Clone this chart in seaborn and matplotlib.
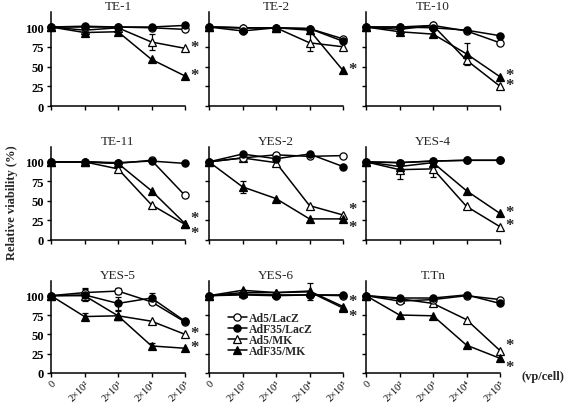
import seaborn as sns
import pandas as pd
import matplotlib.pyplot as plt

panels = ['TE-1', 'TE-2', 'TE-10', 'TE-11', 'YES-2', 'YES-4', 'YES-5', 'YES-6', 'T.Tn']
doses = ['0', '2×10²', '2×10³', '2×10⁴', '2×10⁵']

# relative viability (%), one row per panel
ad5_lacz = [
    [100, 100, 100, 99, 97],
    [100, 99, 99, 98, 85],
    [100, 100, 102, 95, 80],
    [100, 100, 98, 102, 57],
    [100, 105, 109, 107, 108],
    [100, 99, 101, 102, 102],
    [100, 104, 106, 92, 66],
    [100, 102, 101, 101, 100],
    [100, 93, 95, 100, 95],
]
adf35_lacz = [
    [100, 101, 100, 100, 102],
    [100, 95, 99, 98, 82],
    [100, 100, 99, 96, 89],
    [100, 100, 99, 101, 98],
    [100, 110, 104, 110, 94],
    [100, 99, 101, 102, 102],
    [100, 101, 90, 97, 67],
    [100, 101, 100, 101, 101],
    [100, 97, 97, 101, 90],
]
ad5_mk = [
    [100, 96, 99, 81, 73],
    [100, 99, 99, 80, 75],
    [100, 97, 102, 58, 25],
    [100, 100, 91, 45, 20],
    [100, 105, 99, 44, 32],
    [100, 90, 91, 43, 17],
    [100, 100, 74, 67, 50],
    [100, 104, 104, 106, 86],
    [100, 96, 90, 69, 29],
]
adf35_mk = [
    [100, 93, 94, 59, 38],
    [100, 99, 99, 96, 45],
    [100, 94, 91, 66, 37],
    [100, 100, 98, 63, 21],
    [100, 68, 53, 27, 27],
    [100, 94, 99, 63, 34],
    [100, 73, 74, 35, 32],
    [100, 107, 104, 105, 84],
    [100, 75, 74, 36, 19],
]

# visible error bars: (panel, series, dose index, SD)
errors = [
    (0, 'Ad5/MK', 3, 10),
    (1, 'Ad5/MK', 3, 11),
    (2, 'AdF35/MK', 3, 14),
    (4, 'AdF35/MK', 1, 8),
    (5, 'Ad5/MK', 1, 12),
    (5, 'Ad5/MK', 2, 10),
    (6, 'Ad5/LacZ', 1, 6),
    (6, 'AdF35/LacZ', 1, 8),
    (6, 'Ad5/LacZ', 2, 4),
    (6, 'AdF35/LacZ', 2, 8),
    (6, 'AdF35/MK', 1, 5),
    (6, 'AdF35/MK', 2, 6),
    (6, 'AdF35/LacZ', 3, 6),
    (6, 'AdF35/MK', 3, 4),
    (7, 'Ad5/MK', 3, 11),
]

# series with significance stars (TE-2 only AdF35/MK)
no_star = [(1, 'Ad5/MK')]

series = {'Ad5/LacZ': ad5_lacz, 'AdF35/LacZ': adf35_lacz,
          'Ad5/MK': ad5_mk, 'AdF35/MK': adf35_mk}
styles = {'Ad5/LacZ': ('o', 'white', 4),
          'AdF35/LacZ': ('o', 'black', 5),
          'Ad5/MK': ('^', 'white', 3),
          'AdF35/MK': ('^', 'black', 3)}

rows = []
for name, vals in series.items():
    for p, panel in enumerate(panels):
        for i, v in enumerate(vals[p]):
            rows.append({'panel': panel, 'series': name, 'x': i, 'y': v})
df = pd.DataFrame(rows)

sns.set_theme(style='ticks')
plt.rcParams['font.family'] = ['Liberation Serif', 'DejaVu Serif']

fig = plt.figure(figsize=(5.67, 4.06), dpi=100)
lefts = [51, 209, 366]
tops = [13, 148, 282]
bottoms = [107, 241, 374]

for p, panel in enumerate(panels):
    r, c = divmod(p, 3)
    ax = fig.add_axes([lefts[c] / 567, 1 - bottoms[r] / 406, 134 / 567,
                       (bottoms[r] - tops[r]) / 406])
    sub = df[df.panel == panel]
    for name in series:
        mk, fc, z = styles[name]
        d = sub[sub.series == name]
        sns.lineplot(data=d, x='x', y='y', ax=ax, color='black', lw=1.1,
                     marker=mk, markersize=5.2,
                     markerfacecolor=fc, markeredgecolor='black',
                     markeredgewidth=0.9, clip_on=False, zorder=z,
                     label=name if p == 7 else None, legend=False)
    for (ep, en, ei, sd) in errors:
        if ep == p:
            ax.errorbar(ei, series[en][p][ei], yerr=sd, fmt='none',
                        ecolor='black', elinewidth=0.9, capsize=2,
                        capthick=0.9, zorder=1)
    # stars
    last = {n: series[n][p][4] for n in ['Ad5/MK', 'AdF35/MK']}
    close = abs(last['Ad5/MK'] - last['AdF35/MK']) < 12
    for n in ['Ad5/MK', 'AdF35/MK']:
        if (p, n) in no_star:
            continue
        other = [k for k in last if k != n][0]
        dy = 1
        if close:
            dy = 4 if last[n] >= last[other] else -6
        ax.annotate('*', (4, last[n]), xytext=(3.5, dy), textcoords='offset points',
                    fontsize=12, fontweight='bold', ha='left', va='center',
                    annotation_clip=False)

    ax.set_xlim(0, 4)
    ax.set_ylim(0, 119)
    ax.set_yticks([0, 25, 50, 75, 100])
    ax.set_xticks(range(5))
    ax.set_xlabel('')
    ax.set_ylabel('')
    ax.set_title(panel, fontsize=9.5, pad=1.5)
    sns.despine(ax=ax)
    for s in ['left', 'bottom']:
        ax.spines[s].set_linewidth(1.1)
        ax.spines[s].set_color('black')
    ax.tick_params(length=3, width=1, colors='black', pad=2)
    if c == 0:
        ax.set_yticklabels([0, 25, 50, 75, 100], fontsize=9, fontweight='bold')
    else:
        ax.set_yticklabels([])
    if r == 2:
        ax.set_xticklabels(doses, fontsize=7.5, rotation=45, ha='right',
                           rotation_mode='anchor')
        ax.tick_params(axis='x', pad=1)
    else:
        ax.set_xticklabels([])
    if p == 7:
        ax.legend(loc='upper left', bbox_to_anchor=(0.14, 0.66), frameon=False,
                  prop={'size': 8.5, 'weight': 'bold'}, labelspacing=-0.1,
                  handlelength=1.6, handletextpad=0.2, borderpad=0,
                  borderaxespad=0)

fig.text(0.022, 0.5, 'Relative viability (%)', rotation=90, fontsize=9,
         fontweight='bold', ha='center', va='center')
fig.text(0.957, 0.071, '(vp/cell)', fontsize=9, fontweight='bold',
         ha='center', va='center')

plt.savefig('out.png', dpi=100)
